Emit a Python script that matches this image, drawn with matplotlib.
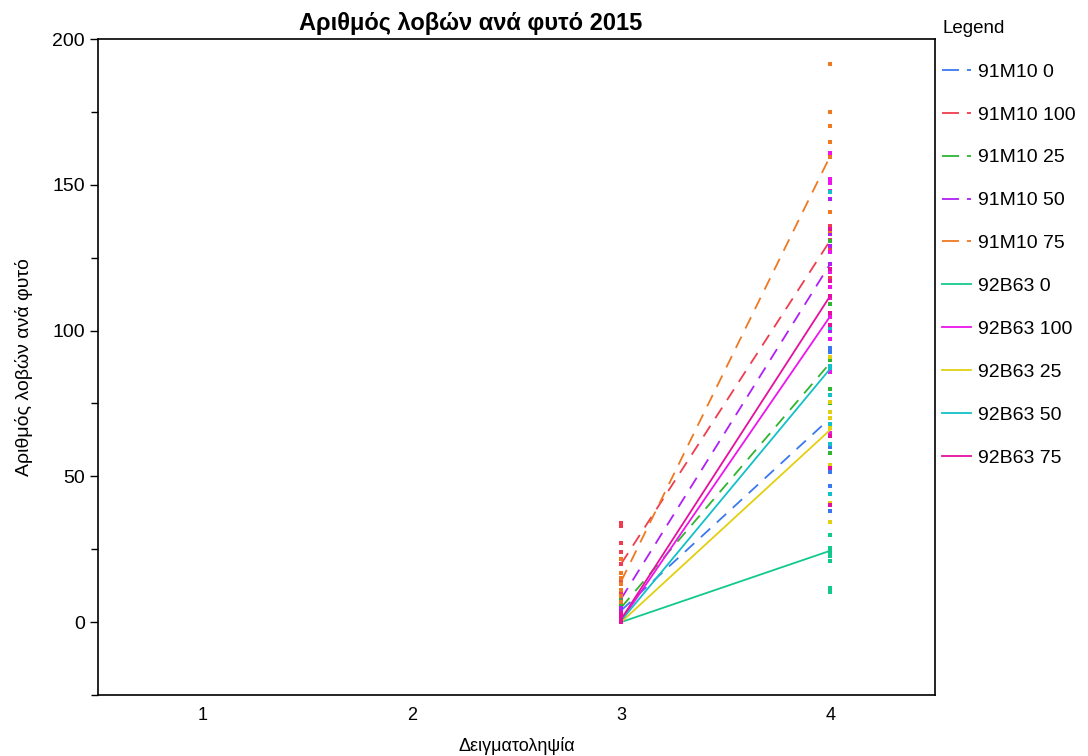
import matplotlib
matplotlib.use("Agg")
from matplotlib import pyplot as plt
from matplotlib.ticker import MultipleLocator
from matplotlib.lines import Line2D

plt.rcParams['font.family'] = ['Liberation Sans', 'DejaVu Sans']

# series names and colours
names = ['91M10 0', '91M10 100', '91M10 25', '91M10 50', '91M10 75',
         '92B63 0', '92B63 100', '92B63 25', '92B63 50', '92B63 75']
colors = ['#3a78f2', '#f03c4e', '#2fb52f', '#b01ff5', '#f07820',
          '#12c98d', '#ee14ee', '#e2d010', '#12c0c9', '#e5109e']

# sampling occasions
samplings = [3, 4]

# mean values (line end points)
means_3 = [4, 20, 5, 8, 14, 0, 0.5, 0, 0.5, 1]
means_4 = [70, 131, 89, 123, 160, 24.5, 105, 66, 87, 112]

# individual observations at sampling 3
obs_3 = [
    [6, 4, 3, 2, 1, 0],
    [34, 33, 27, 24, 20, 14, 10],
    [8, 6, 4, 3, 1, 0],
    [5, 4, 2, 1, 0.5, 0],
    [21.5, 17, 15, 13, 11, 9, 7],
    [0, 0, 0, 0],
    [2, 1, 0.5, 0],
    [0, 0, 0],
    [1, 0.5, 0],
    [3, 2, 1, 0],
]

# individual observations at sampling 4
obs_4 = [
    [94, 92.5, 66.7, 60, 51.5, 46.7, 38],
    [136, 131, 128, 118],
    [130.6, 109, 90, 80, 75, 58],
    [145, 133, 129, 123, 100],
    [191.4, 175, 170, 164.6, 159.5, 140.5, 134],
    [30, 25.5, 24, 22.7, 21, 11.7, 10.3],
    [161, 152, 150.5, 147.8, 127, 120, 115, 111, 104.5, 97, 85.7, 65],
    [91, 75.6, 72, 70, 66.7, 54, 41, 34.4],
    [147.5, 101, 88, 87, 78, 68, 61, 44],
    [135, 121, 117, 112, 106, 102, 64, 53, 40],
]

fig = plt.figure(figsize=(10.88, 7.56), dpi=100)
ax = fig.add_axes([0.0901, 0.0807, 0.7693, 0.8677])

dash = (0, (7, 5))
handles = []
for i, name in enumerate(names):
    ls = dash if name.startswith('91M10') else '-'
    ax.plot(samplings, [means_3[i], means_4[i]], color=colors[i], lw=1.3, linestyle=ls)
    ax.plot([3] * len(obs_3[i]), obs_3[i], linestyle='none', marker='s',
            markersize=2.6, color=colors[i], markeredgewidth=0)
    ax.plot([4] * len(obs_4[i]), obs_4[i], linestyle='none', marker='s',
            markersize=2.6, color=colors[i], markeredgewidth=0)
    hls = (0, (9.4, 4.4)) if name.startswith('91M10') else '-'
    handles.append(Line2D([], [], color=colors[i], lw=1.3, linestyle=hls, label=name))

ax.set_xlim(0.5, 4.5)
ax.set_ylim(-25, 200)
ax.set_xticks([1, 2, 3, 4])
ax.yaxis.set_major_locator(MultipleLocator(50))
ax.yaxis.set_minor_locator(MultipleLocator(25))
ax.tick_params(axis='y', which='major', direction='out', length=5.5, width=1,
               labelsize=14, pad=4)
ax.tick_params(axis='x', which='major', length=0, labelsize=13, pad=9)
ax.tick_params(axis='y', which='minor', direction='out', length=5, width=1)
for sp in ax.spines.values():
    sp.set_linewidth(1.2)

ax.set_xlabel('Δειγματοληψία', fontsize=13, labelpad=9)
ax.set_ylabel('Αριθμός λοβών ανά φυτό', fontsize=14, labelpad=14)
fig.text(0.433, 0.969, 'Αριθμός λοβών ανά φυτό 2015', ha='center', va='center',
         fontsize=17, fontweight='bold')

leg = fig.legend(handles=handles, loc='upper left', bbox_to_anchor=(0.866, 0.974),
                 frameon=False, fontsize=14, title='Legend', title_fontsize=13.5,
                 alignment='left', handlelength=1.5, labelspacing=1.3,
                 handletextpad=0.35, borderpad=0, borderaxespad=0)
leg._legend_box.sep = 19

fig.savefig('out.png', dpi=100)
